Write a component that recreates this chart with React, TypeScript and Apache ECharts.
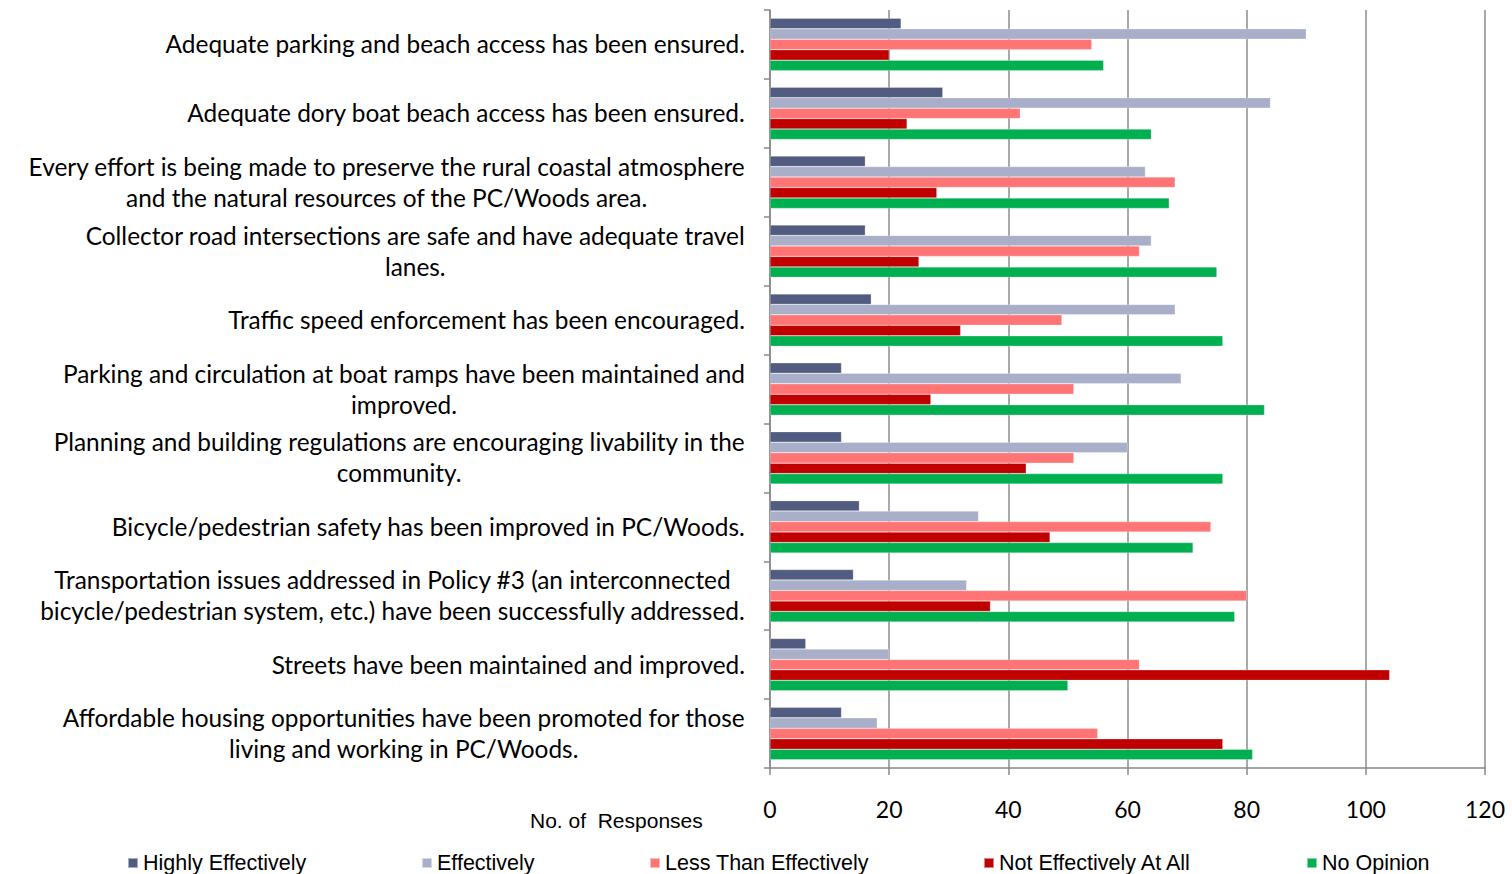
import React, { useEffect, useRef } from "react";
import * as echarts from "echarts";

const categories = [
  "Adequate parking and beach access has been ensured.",
  "Adequate dory boat beach access has been ensured.",
  "Every effort is being made to preserve the rural coastal atmosphere\nand the natural resources of the PC/Woods area.",
  "Collector road intersections are safe and have adequate travel\nlanes.",
  "Traffic speed enforcement has been encouraged.",
  "Parking and circulation at boat ramps have been maintained and\nimproved.",
  "Planning and building regulations are encouraging livability in the\ncommunity.",
  "Bicycle/pedestrian safety has been improved in PC/Woods.",
  "Transportation issues addressed in Policy #3 (an interconnected\nbicycle/pedestrian system, etc.) have been successfully addressed.",
  "Streets have been maintained and improved.",
  "Affordable housing opportunities have been promoted for those\nliving and working in PC/Woods.",
];

const seriesNames = [
  "Highly Effectively",
  "Effectively",
  "Less Than Effectively",
  "Not Effectively At All",
  "No Opinion",
];

const highly = [22, 29, 16, 16, 17, 12, 12, 15, 14, 6, 12];
const effectively = [90, 84, 63, 64, 68, 69, 60, 35, 33, 20, 18];
const lessThan = [54, 42, 68, 62, 49, 51, 51, 74, 80, 62, 55];
const notAtAll = [20, 23, 28, 25, 32, 27, 43, 47, 37, 104, 76];
const noOpinion = [56, 64, 67, 75, 76, 83, 76, 71, 78, 50, 81];

const xTicks = [0, 20, 40, 60, 80, 100, 120];
const axisTitle = "No. of  Responses";

const colors = ["#525C80", "#AAAFC9", "#FF7575", "#C00000", "#00B050"];
const legendLeft = [127, 421, 649, 983, 1306];

const LABEL_FONT = "Lato, 'Open Sans', sans-serif";
const LABEL_SIZE = 24.4;

export default function App() {
  const ref = useRef<HTMLDivElement>(null);
  useEffect(() => {
    if (!ref.current) return;
    const chart = echarts.init(ref.current, null, { renderer: "svg" });
    const values = [highly, effectively, lessThan, notAtAll, noOpinion];
    const option: any = {
      animation: false,
      grid: { left: 770, right: 27, top: 10, bottom: 106, containLabel: false },
      xAxis: {
        type: "value",
        min: xTicks[0],
        max: xTicks[xTicks.length - 1],
        interval: 20,
        axisLine: { show: true, lineStyle: { color: "#888888", width: 1.5 } },
        axisTick: { show: true, length: 7, lineStyle: { color: "#888888", width: 1.5 } },
        splitLine: { show: true, lineStyle: { color: "#8c8c8c", width: 1.5 } },
        axisLabel: {
          margin: 29,
          fontFamily: LABEL_FONT,
          fontSize: 23,
          color: "#000",
        },
      },
      yAxis: {
        type: "category",
        inverse: true,
        data: categories,
        axisLine: { show: true, lineStyle: { color: "#888888", width: 1.5 } },
        axisTick: { show: true, length: 6, lineStyle: { color: "#888888", width: 1.5 } },
        axisLabel: { show: false },
      },
      legend: seriesNames.map((n, i) => ({
        data: [n],
        left: legendLeft[i],
        top: 852,
        padding: 0,
        icon: "rect",
        itemWidth: 10,
        itemHeight: 10,
        textStyle: { fontFamily: "'Liberation Sans', Arial, sans-serif", fontSize: 21.5, color: "#000" },
      })),
      series: seriesNames.map((n, i) => ({
        name: n,
        type: "bar",
        data: values[i],
        barGap: "0%",
        barCategoryGap: "24%",
        itemStyle: { color: colors[i], borderColor: "rgba(255,255,255,0.5)", borderWidth: 0.5 },
      })),
    };
    chart.setOption(option);

    const canvas = document.createElement("canvas");
    const ctx = canvas.getContext("2d")!;
    ctx.font = `${LABEL_SIZE}px ${LABEL_FONT}`;
    const graphics: any[] = categories.map((c, i) => {
      const y = chart.convertToPixel({ yAxisIndex: 0 }, i) as number;
      const lines = c.split("\n");
      const w = Math.max(...lines.map((l) => ctx.measureText(l).width));
      return {
        type: "text",
        x: 745 - w / 2,
        y: y - 0.5,
        style: {
          text: c,
          fontFamily: LABEL_FONT,
          fontSize: LABEL_SIZE,
          fill: "#000",
          align: "center",
          verticalAlign: "middle",
          lineHeight: 31,
        },
      };
    });
    graphics.push({
      type: "text",
      x: 530,
      y: 820,
      style: {
        text: axisTitle,
        fontFamily: "'Liberation Sans', Arial, sans-serif",
        fontSize: 21,
        fill: "#000",
        align: "left",
        verticalAlign: "middle",
      },
    });
    chart.setOption({ graphic: graphics });

    return () => chart.dispose();
  }, []);
  return (
    <div
      ref={ref}
      style={{ position: "absolute", left: 0, top: 0, width: 1512, height: 874 }}
    />
  );
}
